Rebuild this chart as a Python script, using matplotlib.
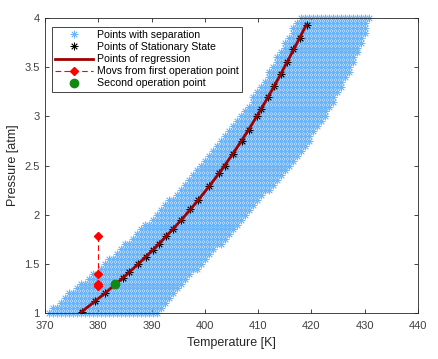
import numpy as np
import matplotlib
matplotlib.use("Agg")
import matplotlib.pyplot as plt

plt.rcParams['font.family'] = ['Liberation Sans', 'DejaVu Sans']

# Region of points with separation: one row per pressure level
P_rows = [1.00, 1.05, 1.10, 1.15, 1.20, 1.25, 1.30, 1.35, 1.40, 1.45,
          1.50, 1.55, 1.60, 1.65, 1.70, 1.75, 1.80, 1.85, 1.90, 1.95,
          2.00, 2.05, 2.10, 2.15, 2.20, 2.25, 2.30, 2.35, 2.40, 2.45,
          2.50, 2.55, 2.60, 2.65, 2.70, 2.75, 2.80, 2.85, 2.90, 2.95,
          3.00, 3.05, 3.10, 3.15, 3.20, 3.25, 3.30, 3.35, 3.40, 3.45,
          3.50, 3.55, 3.60, 3.65, 3.70, 3.75, 3.80, 3.85, 3.90, 3.95, 4.00]
T_left = [370.5, 371.5, 372.5, 373.5, 374.5, 375.5, 376.6, 377.7, 378.8, 379.9,
          381.0, 382.0, 383.0, 384.0, 385.0, 386.0, 386.9, 387.8, 388.7, 389.6,
          390.5, 391.4, 392.3, 393.2, 394.1, 395.0, 395.8, 396.6, 397.4, 398.2,
          399.0, 399.8, 400.6, 401.4, 402.2, 403.0, 403.7, 404.4, 405.1, 405.8,
          406.5, 407.1, 407.7, 408.3, 408.9, 409.5, 410.1, 410.7, 411.3, 411.9,
          412.5, 413.0, 413.5, 414.0, 414.5, 415.0, 415.5, 416.0, 416.5, 417.0, 417.5]
T_right = [391.5, 392.2, 392.9, 393.6, 394.3, 395.0, 395.9, 396.8, 397.7, 398.6,
           399.5, 400.4, 401.3, 402.2, 403.1, 404.0, 404.8, 405.6, 406.4, 407.2,
           408.0, 408.8, 409.6, 410.4, 411.2, 412.0, 412.8, 413.6, 414.4, 415.2,
           416.0, 416.7, 417.4, 418.1, 418.8, 419.5, 420.1, 420.7, 421.3, 421.9,
           422.5, 423.0, 423.5, 424.0, 424.5, 425.0, 425.5, 426.0, 426.5, 427.0,
           427.5, 427.9, 428.3, 428.7, 429.1, 429.5, 429.8, 430.1, 430.4, 430.7, 431.0]
T_grid_step = 0.75

# Stationary state points
stat_P = [1.01, 1.12, 1.20, 1.29, 1.36, 1.42, 1.50, 1.57, 1.64, 1.70,
          1.78, 1.85, 1.95, 2.06, 2.15, 2.29, 2.42, 2.50, 2.62, 2.75,
          2.86, 3.00, 3.07, 3.20, 3.31, 3.43, 3.55, 3.68, 3.80, 3.93]
stat_T = [376.9, 379.3, 381.3, 383.1, 384.6, 385.8, 387.5, 388.9, 390.3, 391.4,
          392.8, 394.0, 395.6, 397.3, 398.7, 400.8, 402.6, 403.7, 405.3, 406.9,
          408.2, 409.8, 410.5, 411.9, 413.0, 414.2, 415.4, 416.6, 417.8, 419.1]

# Moves from first operation point
mov_T = [380, 380, 380, 380]
mov_P = [1.78, 1.40, 1.30, 1.27]

# Second operation point
op2_T = [383.1]
op2_P = [1.29]

# Build separation point cloud
sepT, sepP = [], []
grid = 370 + T_grid_step * np.arange(0, 100)
for p, tl, tr in zip(P_rows, T_left, T_right):
    sel = grid[(grid >= tl - 1e-9) & (grid <= tr + 1e-9)]
    sepT.extend(sel)
    sepP.extend([p] * len(sel))

fig = plt.figure(figsize=(4.39, 3.59), dpi=100)
ax = fig.add_axes([45/439, 1 - 313/359, (418-45)/439, (313-18)/359])

ast = (8, 2, 0)
ax.plot(sepT, sepP, linestyle='none', marker=ast, color='#6ab4f7', ms=5.5,
        mew=0.55, clip_on=False, label='Points with separation', zorder=2)
ax.plot(stat_T, stat_P, linestyle='none', marker=ast, color='black', ms=5.5,
        mew=0.6, label='Points of Stationary State', zorder=3)
coef = np.polyfit(stat_P, stat_T, 3)
pp = np.linspace(min(stat_P), max(stat_P), 100)
ax.plot(np.polyval(coef, pp), pp, color='#a00000', lw=2.0,
        label='Points of regression', zorder=4)
ax.plot(mov_T, mov_P, linestyle=(0, (5, 3)), color='#ff0000', lw=0.8,
        marker='D', ms=4.5, mfc='#ff0000', mec='#ff0000',
        label='Movs from first operation point', zorder=5)
ax.plot(op2_T, op2_P, linestyle='none', marker='o', color='#118a11', ms=6,
        label='Second operation point', zorder=6)

ax.set_xlim(370, 440)
ax.set_ylim(1, 4)
ax.set_xticks(range(370, 441, 10))
ax.set_yticks([1, 1.5, 2, 2.5, 3, 3.5, 4])
ax.set_yticklabels(['1', '1.5', '2', '2.5', '3', '3.5', '4'])
ax.tick_params(direction='in', top=True, right=True, labelsize=8,
               colors='#262626', labelcolor='#404040', length=3, width=0.6,
               pad=4)
ax.tick_params(axis='x', pad=6)
for s in ax.spines.values():
    s.set_color('#262626')
    s.set_linewidth(0.6)
ax.set_xlabel('Temperature [K]', fontsize=9, color='#262626', labelpad=4)
ax.set_ylabel('Pressure [atm]', fontsize=9, color='#262626', labelpad=4)

leg = ax.legend(loc='upper left', bbox_to_anchor=(0.019, 0.97), fontsize=7.6,
                fancybox=False, framealpha=1, edgecolor='#262626',
                handlelength=3.6, borderpad=0.3, labelspacing=0.2,
                handletextpad=0.35, borderaxespad=0)
leg.get_frame().set_linewidth(0.6)

fig.savefig('out.png', dpi=100)
